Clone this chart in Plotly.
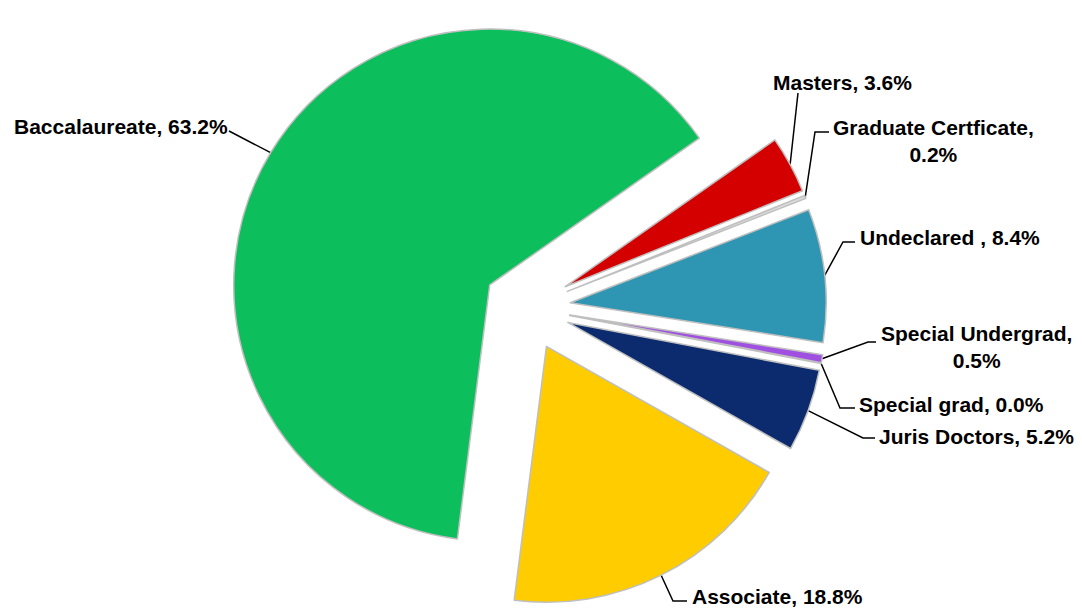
import numpy as np
import plotly.graph_objects as go

# ---- data ----
labels = ["Masters", "Graduate Certficate", "Undeclared ", "Special Undergrad",
          "Special grad", "Juris Doctors", "Associate", "Baccalaureate"]
values = [3.6, 0.2, 8.4, 0.5, 0.0, 5.2, 18.8, 63.2]

# ---- styles / layout ----
colors = ["#D40000", "#DADADA", "#2E96B2", "#A050E0", "#CFCFCF", "#0B2B6E", "#FFCC00", "#0DBF5C"]
OFF = 8                      # page body margin of the browser view
W, H = 1082 - OFF, 613 - OFF  # figure size so that it fits inside the view
ROT = 55
PULL = 0.17
DOM_X = [0.1832, 0.7832]
DOM_Y = [0.01, 1.0]
FONT = dict(family="Arial", size=21, color="black", weight="bold")

# label placement in view pixels: text anchor, alignment, leader-line tail points (elbow ... end)
label_pos = {
    "Baccalaureate":       dict(x=12,  y=126, xa="left",   tail=[(229, 131)]),
    "Masters":             dict(x=771, y=82,  xa="left",   tail=[(798, 93)]),
    "Graduate Certficate": dict(x=933, y=141, xa="center", tail=[(815, 132), (829, 132)]),
    "Undeclared ":         dict(x=858, y=237, xa="left",   tail=[(843, 242), (855, 242)]),
    "Special Undergrad":   dict(x=976, y=347, xa="center", tail=[(868, 342), (876, 342)]),
    "Special grad":        dict(x=857, y=404, xa="left",   tail=[(840, 408), (855, 408)]),
    "Juris Doctors":       dict(x=877, y=436, xa="left",   tail=[(863, 438), (875, 438)]),
    "Associate":           dict(x=690, y=596, xa="left",   tail=[(673, 601), (687, 601)]),
}
two_line = {"Graduate Certficate", "Special Undergrad"}

fig = go.Figure()
fig.add_trace(go.Pie(
    labels=labels, values=values, textinfo="none",
    sort=False, direction="clockwise", rotation=ROT,
    pull=[PULL] * len(values),
    marker=dict(colors=colors, line=dict(color="#BFBFBF", width=1.5)),
    domain=dict(x=DOM_X, y=DOM_Y),
    showlegend=False, hoverinfo="label+percent",
))

# pie geometry as Plotly lays it out (center, radius), used to anchor the leader lines
cx = W * (DOM_X[0] + DOM_X[1]) / 2
cy = H * (1 - (DOM_Y[0] + DOM_Y[1]) / 2)
r = min(W * (DOM_X[1] - DOM_X[0]), H * (DOM_Y[1] - DOM_Y[0])) / 2 / (1 + PULL)
vals = np.array(values, dtype=float)
total = vals.sum()
start = np.concatenate([[0.0], np.cumsum(vals)[:-1]])
mid = np.radians(ROT + (start + vals / 2) / total * 360)
ax = cx + r * (1 + PULL) * np.sin(mid)
ay = cy - r * (1 + PULL) * np.cos(mid)

for i, lab in enumerate(labels):
    p = label_pos.get(lab, label_pos.get(lab.strip()))
    xs = [ax[i]] + [t[0] - OFF for t in p["tail"]]
    ys = [ay[i]] + [t[1] - OFF for t in p["tail"]]
    fig.add_trace(go.Scatter(x=xs, y=ys, mode="lines", line=dict(color="black", width=1.5),
                             showlegend=False, hoverinfo="skip"))
    sep = ",<br>" if lab in two_line else ", "
    fig.add_annotation(x=p["x"] - OFF, y=p["y"] - OFF, xref="x", yref="y",
                       xanchor=p["xa"], yanchor="middle",
                       text=f"{lab}{sep}{values[i]:.1f}%", showarrow=False, font=FONT,
                       align="center")

fig.update_xaxes(range=[0, W], visible=False, fixedrange=True)
fig.update_yaxes(range=[H, 0], visible=False, fixedrange=True)
fig.update_layout(width=W, height=H, margin=dict(l=0, r=0, t=0, b=0),
                  paper_bgcolor="white", plot_bgcolor="rgba(0,0,0,0)", showlegend=False)
fig.write_html("out.html")
